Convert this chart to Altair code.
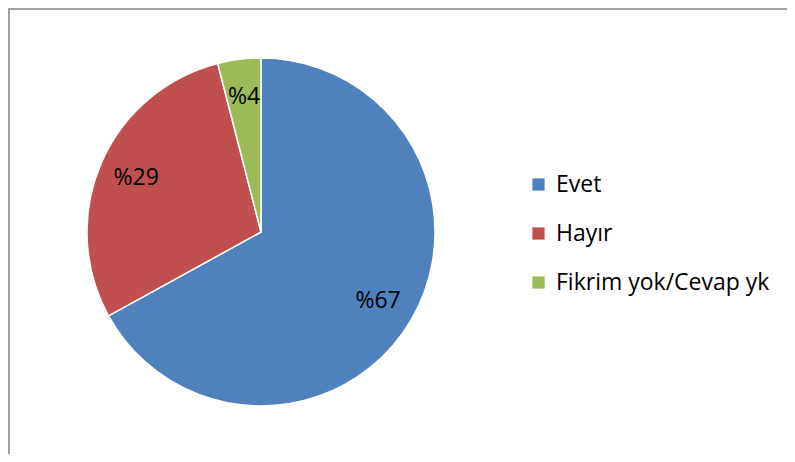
import altair as alt
import pandas as pd

categories = ["Evet", "Hayır", "Fikrim yok/Cevap yk"]
values = [67, 29, 4]
labels = ["%67", "%29", "%4"]
colors = ["#4F81BD", "#C0504D", "#9BBB59"]

df = pd.DataFrame({"cat": categories, "val": values, "lab": labels, "order": [0, 1, 2]})

CX, CY, R = 253, 224, 174

base = alt.Chart(df).encode(
    theta=alt.Theta("val:Q", stack=True),
    order=alt.Order("order:Q"),
)

pie = base.mark_arc(stroke="white", strokeWidth=1.5, radius=R).encode(
    x=alt.value(CX),
    y=alt.value(CY),
    color=alt.Color(
        "cat:N",
        scale=alt.Scale(domain=categories, range=colors),
        sort=categories,
        legend=alt.Legend(
            title=None,
            orient="none",
            legendX=519,
            legendY=165,
            symbolType="square",
            symbolSize=150,
            symbolStrokeWidth=0,
            labelFont="Open Sans",
            labelFontSize=23,
            labelColor="#000000",
            labelLimit=0,
            rowPadding=25,
            labelOffset=6,
            padding=0,
        ),
    ),
)

text = base.mark_text(radius=136, font="Open Sans", fontSize=23, color="#000000").encode(
    x=alt.value(CX),
    y=alt.value(CY),
    text="lab:N",
)

frame_top = alt.Chart(pd.DataFrame({"a": [0]})).mark_rule(color="#a0a0a0", strokeWidth=2).encode(
    x=alt.value(0), x2=alt.value(779), y=alt.value(1)
)
frame_left = alt.Chart(pd.DataFrame({"a": [0]})).mark_rule(color="#a0a0a0", strokeWidth=2).encode(
    x=alt.value(1), y=alt.value(0), y2=alt.value(446)
)

chart = (
    alt.layer(frame_top, frame_left, pie, text)
    .properties(width=779, height=446, autosize=alt.AutoSizeParams(type="none"), padding=0)
    .configure_view(stroke=None)
)

chart.save("out.html", embed_options={"renderer": "svg", "actions": False})
